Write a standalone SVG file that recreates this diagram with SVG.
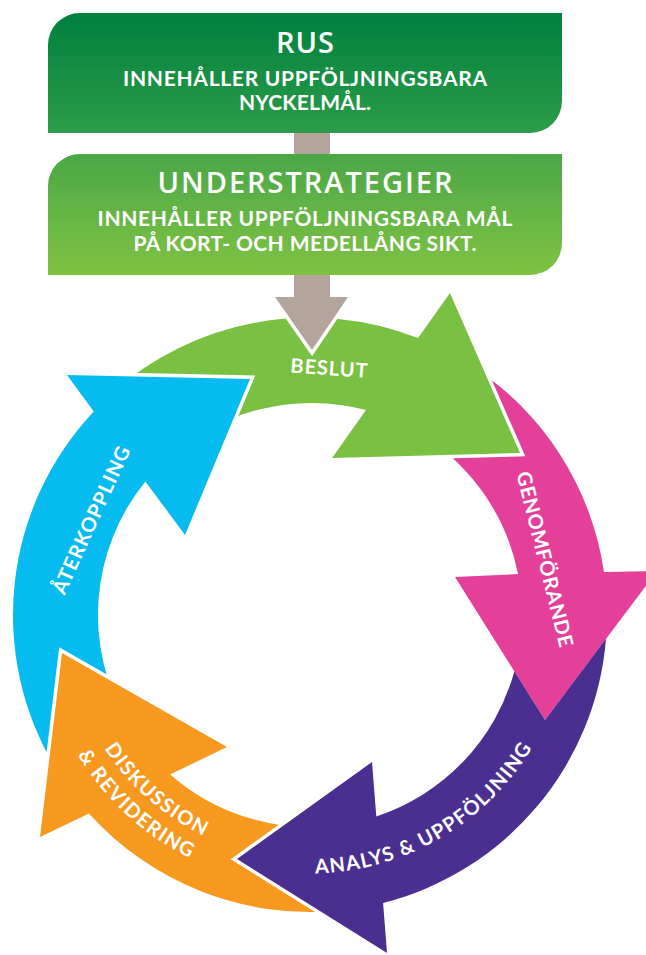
<svg xmlns="http://www.w3.org/2000/svg" width="646" height="955" viewBox="0 0 646 955">
  <defs>
    <linearGradient id="gradRus" x1="0" y1="0" x2="0" y2="1">
      <stop offset="0" stop-color="#00803e"/>
      <stop offset="1" stop-color="#2c9c49"/>
    </linearGradient>
    <linearGradient id="gradUnder" x1="0" y1="0" x2="0" y2="1">
      <stop offset="0" stop-color="#4aa747"/>
      <stop offset="1" stop-color="#80c343"/>
    </linearGradient>
    <path id="pathAnalys" d="M181.7,839.4 A259,259 0 0 0 569,613.9"/>
    <path id="pathDisk1" d="M69.6,567.4 A245,245 0 0 0 389,847"/>
    <path id="pathDisk2" d="M45.2,556.4 A271.2,271.2 0 0 0 391.5,873.6"/>
  </defs>
  <style>
    .t { font-family: Lato, "Open Sans", "Liberation Sans", sans-serif; font-weight: 700; fill: #ffffff; }
    .title { font-family: "Open Sans", Lato, "Liberation Sans", sans-serif; font-size: 29px; font-weight: 600; }
    .sub { font-size: 21px; }
    .lab { font-size: 20px; }
    .halo { stroke: #ffffff; stroke-width: 7; stroke-linejoin: miter; paint-order: stroke; }
    .haloLine { fill: none; stroke: #ffffff; stroke-width: 7; stroke-linejoin: miter; }
    .green { fill: #7ac143; }
    .pink { fill: #e4409a; }
    .purple { fill: #4a2f91; }
    .orange { fill: #f7991f; }
    .blue { fill: #06bbef; }
    .gray { fill: #b3a59c; }
  </style>
  <rect x="0" y="0" width="646" height="955" fill="#ffffff"/>

  <!-- cycle arrows -->
  <g id="node-genomforande">
    <path class="pink" d="M471.8,365.9 A297,297 0 0 1 604,572 L657,571 L545,720 L455,577 L518,574 A212,212 0 0 0 425.5,437.2 Z"/>
  </g>
  <g id="node-beslut">
    <path class="green halo" d="M111,394 A297,297 0 0 1 418,338 L450,293 L520,453 L332,458 L366,410 A212,212 0 0 0 169,458 Z"/>
  </g>
  <g id="node-aterkoppling">
    <path class="blue halo" d="M55.4,768 A297,297 0 0 1 93.8,411.4 L67,375 L250,379 L185,535 L145.4,481.4 A212,212 0 0 0 128.3,724.2 Z"/>
  </g>
  <g id="node-diskussion">
    <path class="orange halo" d="M335.9,910.9 A297,297 0 0 1 89,813.4 L40,837 L62,653 L227,747 L170.2,774.4 A212,212 0 0 0 328.5,826.2 Z"/>
  </g>
  <g id="node-analys">
    <polyline class="haloLine" points="383.1,902.9 387,953 237,859 372,762 376.3,816.4"/>
    <path class="purple" d="M545,720 L606,638.8 A297,297 0 0 1 383.1,902.9 L387,953 L237,859 L372,762 L376.3,816.4 A212,212 0 0 0 514.4,671.3 Z"/>
  </g>

  <!-- connectors -->
  <g id="connectors">
    <path class="gray halo" d="M294,128 H330 V297 H348 L312,350 L275,297 H294 Z"/>
  </g>

  <!-- top boxes -->
  <g id="node-rus">
    <path fill="url(#gradRus)" d="M48,133 V45 A32,32 0 0 1 80,13 H562 V101 A32,32 0 0 1 530,133 Z"/>
    <text class="t title" x="305" y="52.5" text-anchor="middle" textLength="58">RUS</text>
    <text class="t sub" x="305" y="85.5" text-anchor="middle" textLength="364">INNEHÅLLER UPPFÖLJNINGSBARA</text>
    <text class="t sub" x="305" y="110" text-anchor="middle" textLength="132">NYCKELMÅL.</text>
  </g>
  <g id="node-understrategier">
    <path fill="url(#gradUnder)" d="M48,275 V186 A32,32 0 0 1 80,154 H562 V243 A32,32 0 0 1 530,275 Z"/>
    <text class="t title" x="305" y="193" text-anchor="middle" textLength="295">UNDERSTRATEGIER</text>
    <text class="t sub" x="305" y="226" text-anchor="middle" textLength="415">INNEHÅLLER UPPFÖLJNINGSBARA MÅL</text>
    <text class="t sub" x="305" y="251" text-anchor="middle" textLength="343">PÅ KORT- OCH MEDELLÅNG SIKT.</text>
  </g>

  <!-- labels on the cycle -->
  <g id="labels">
    <text class="t lab" transform="translate(329,368) rotate(4)" x="0" y="7.2" text-anchor="middle" textLength="77">BESLUT</text>
    <text class="t lab" transform="translate(545,559) rotate(76)" x="0" y="7.2" text-anchor="middle" textLength="180">GENOMFÖRANDE</text>
    <text class="t lab" transform="translate(91,520) rotate(-65.5)" x="0" y="7.2" text-anchor="middle" textLength="160">ÅTERKOPPLING</text>
    <text class="t lab" letter-spacing="1.3"><textPath href="#pathAnalys" startOffset="50%" text-anchor="middle">ANALYS &amp; UPPFÖLJNING</textPath></text>
    <text class="t lab" letter-spacing="1.5"><textPath href="#pathDisk1" startOffset="50%" text-anchor="middle">DISKUSSION</textPath></text>
    <text class="t lab" letter-spacing="1.4"><textPath href="#pathDisk2" startOffset="50%" text-anchor="middle">&amp; REVIDERING</textPath></text>
  </g>
</svg>
